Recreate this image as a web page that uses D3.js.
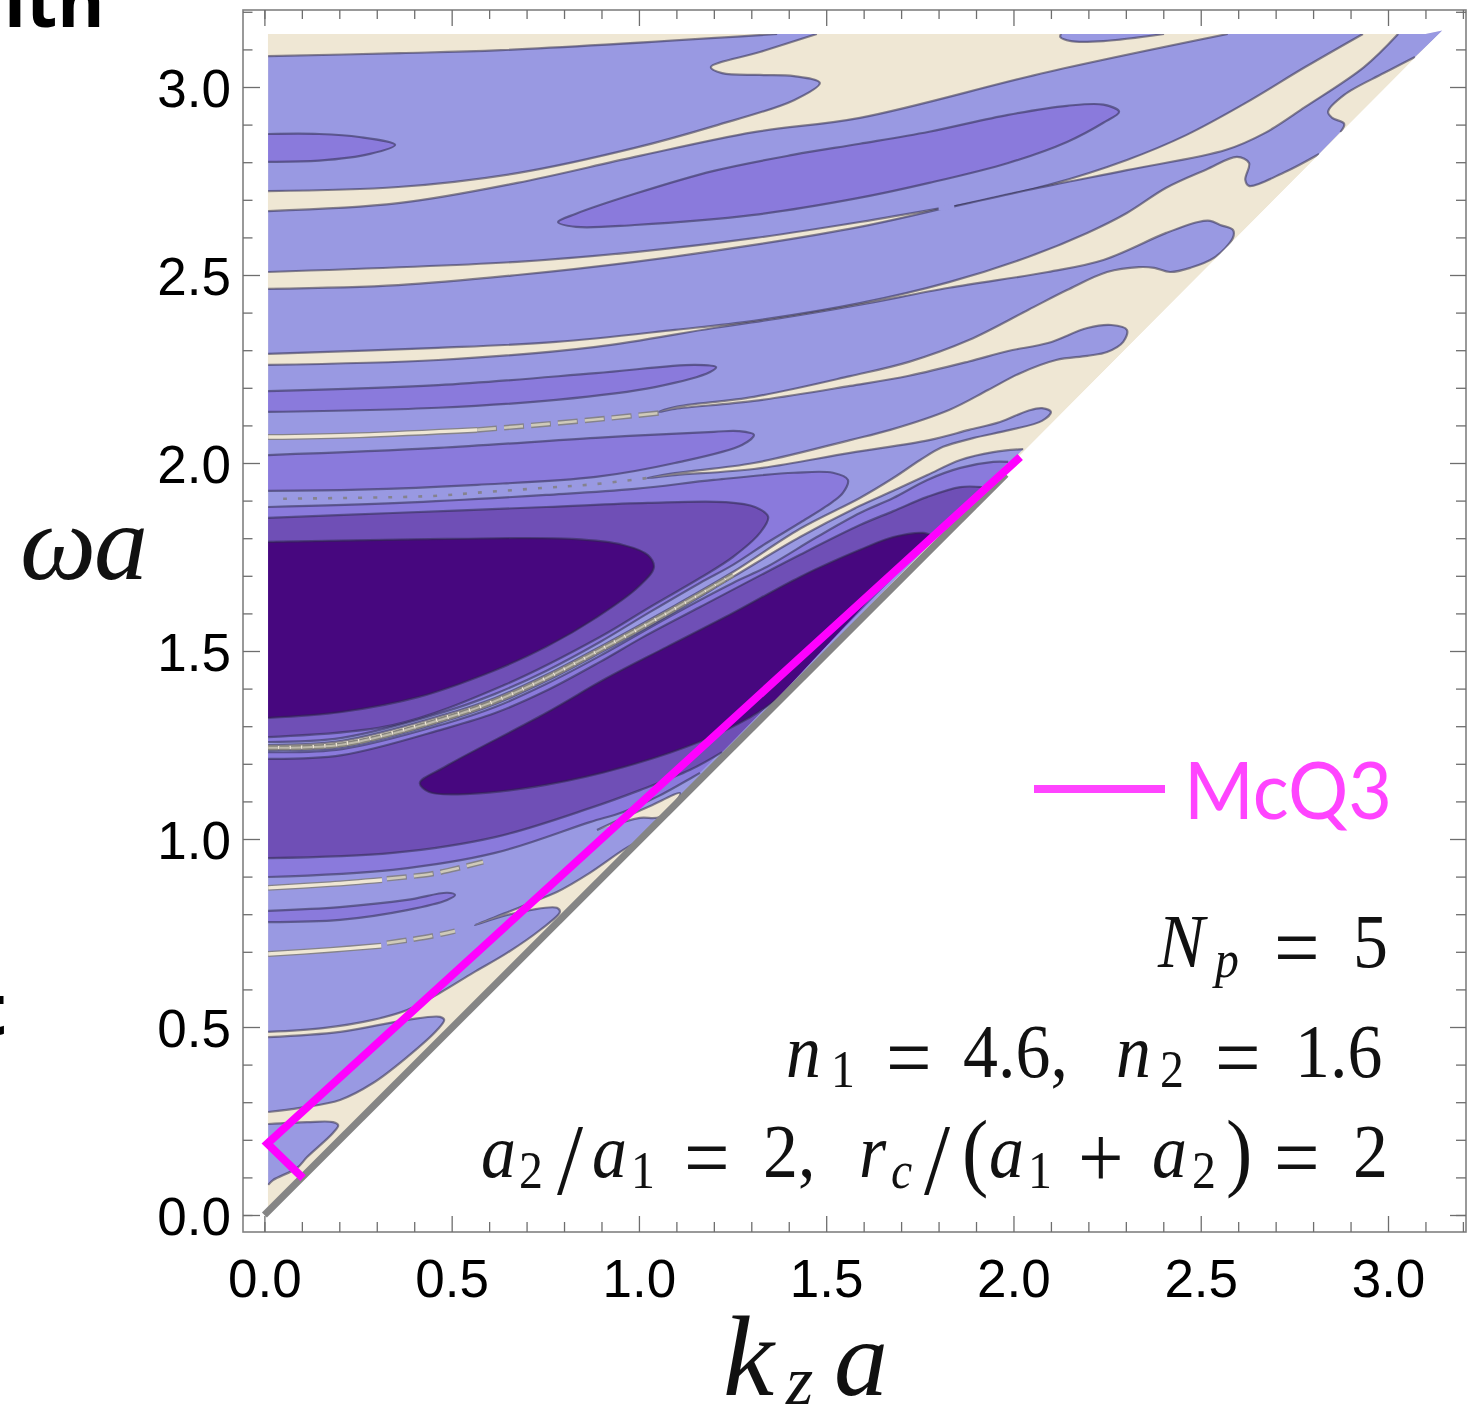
<!DOCTYPE html>
<html><head><meta charset="utf-8">
<style>html,body{margin:0;padding:0;background:#fff}svg{display:block}</style>
<script src="https://cdn.jsdelivr.net/npm/d3@7"></script></head><body>
<svg id="c" width="1471" height="1408"></svg>
<script>
// ---------- tick values ----------
const minorTicks=[0,.1,.2,.3,.4,.6,.7,.8,.9,1.1,1.2,1.3,1.4,1.6,1.7,1.8,1.9,2.1,2.2,2.3,2.4,2.6,2.7,2.8,2.9,3.1,3.2];
const majorTicks=[0,.5,1,1.5,2,2.5,3];
// ---------- domain of the density plot (kz a, omega a) ----------
const domainOutline=[[.009,.005],[.009,3.141],[3.10,3.141],[3.145,3.150],[0,0]];
// ---------- light-blue bands: contour pieces (kz a, omega a) ----------
const bandA=[
 [[.01,3.082],[.362,3.09],[.632,3.098],[1.369,3.141]],
 [[1.475,3.141],[1.323,3.093],[1.192,3.053],[1.222,3.037],[1.323,3.032],[1.414,3.029],[1.483,3.011],[1.414,2.965],[1.2,2.896],[.989,2.838],[.675,2.771],[.357,2.734],[.01,2.723]]];
const bandB=[
 [[.01,2.67],[.357,2.691],[.675,2.745],[.989,2.814],[1.307,2.88],[1.59,2.918],[2.092,3.04],[2.572,3.141]],
 [[2.933,3.141],[2.779,3.053],[2.619,2.957],[2.461,2.872],[2.303,2.806],[2.092,2.739],[1.836,2.681]],
 [[1.806,2.678],[1.59,2.641],[1.307,2.598],[.989,2.561],[.675,2.535],[.01,2.508]]];
const bandC=[
 [[.01,2.463],[.357,2.473],[.675,2.5],[.989,2.535],[1.307,2.58],[1.59,2.628],[1.806,2.676]],
 [[1.836,2.681],[2.039,2.726],[2.303,2.779],[2.568,2.833],[2.672,2.878],[2.779,2.947],[2.936,3.053],[3.027,3.141]],
 [[3.153,3.157]],
 [[3.072,3.08],[2.989,3.037],[2.883,2.979],[2.84,2.934],[2.851,2.918],[2.883,2.902],[2.873,2.88]],
 [[2.816,2.822],[2.725,2.774],[2.629,2.737],[2.619,2.753],[2.629,2.798],[2.597,2.814],[2.514,2.78],[2.408,2.732],[2.303,2.665],[2.197,2.612],[2.039,2.548],[1.828,2.481],[1.59,2.425],[1.307,2.378],[1.096,2.354],[.779,2.322],[.464,2.306],[.01,2.29]]];
const bandGap=[[1.8,2.678],[1.842,2.681]];
const islandTop=[[[2.127,3.141],[2.125,3.133],[2.154,3.122],[2.24,3.122],[2.402,3.141]]];
const bandUpper=[[[.01,2.261],[.464,2.274],[.885,2.309],[1.2,2.359],[1.414,2.391],[1.59,2.421],[1.828,2.466],[2.092,2.508],[2.24,2.54],[2.408,2.612],[2.493,2.641],[2.525,2.644],[2.552,2.633],[2.586,2.62],[2.586,2.599],[2.536,2.546],[2.472,2.519],[2.418,2.508],[2.376,2.519],[2.335,2.521],[2.25,2.508],[2.143,2.46],[2.039,2.407],[1.881,2.327],[1.721,2.269],[1.564,2.231],[1.307,2.176],[1.096,2.149],[1.054,2.136],
 [1.096,2.144],[1.307,2.165],[1.564,2.205],[1.721,2.232],[1.881,2.27],[1.986,2.298],[2.092,2.319],[2.197,2.359],[2.261,2.367],[2.303,2.354],[2.293,2.322],[2.25,2.295],[2.197,2.285],[2.114,2.274],[2.018,2.239],[1.932,2.194],[1.828,2.141],[1.671,2.088],[1.564,2.061],[1.307,2.0],[1.096,1.973],[1.022,1.96],
 [1.096,1.968],[1.307,1.984],[1.564,2.027],[1.775,2.061],[1.881,2.088],[1.964,2.109],[2.039,2.139],[2.076,2.146],[2.1,2.136],[2.076,2.112],[1.991,2.088],[1.892,2.066],[1.812,2.043],[1.751,2.008],[1.679,1.96],[1.59,1.907],[1.43,1.825],[1.251,1.71],[1.075,1.609],[.896,1.511],[.752,1.436],[.616,1.375],[.48,1.33],[.207,1.261],[.01,1.25]]];
const bandLower=[
 [[.01,1.237],[.207,1.245],[.48,1.313],[.616,1.359],[.752,1.42],[.896,1.495],[1.075,1.593],[1.251,1.697],[1.43,1.803],[1.59,1.886],[1.679,1.926],[1.77,1.968],[1.858,2.008],[1.946,2.029],[2.026,2.037]],
 [[1.003,.997],[.958,.971],[.869,.91],[.781,.859],[.709,.83],[.664,.811],[.562,.771],[.648,.798],[.781,.817],[.789,.806],[.736,.758],[.648,.697],[.557,.644],[.469,.591],[.381,.545],[.29,.519],[.156,.497],[.01,.487]]];
const lobeMiddle=[[[.01,.473],[.202,.487],[.381,.519],[.469,.527],[.48,.519],[.461,.492],[.381,.42],[.29,.351],[.202,.306],[.095,.285],[.01,.274]]];
const lobeBottom=[[[.01,.242],[.114,.247],[.183,.247],[.197,.239],[.183,.218],[.114,.154],[.087,.125],[.023,.093],[.01,.08]]];
// ---------- second level (medium violet) ----------
const ellipseTopLeft=[[[.01,2.875],[.146,2.875],[.253,2.867],[.349,2.846],[.282,2.822],[.146,2.804],[.01,2.801]]];
const ellipseLong=[[[.784,2.641],[.832,2.663],[.989,2.716],[1.2,2.777],[1.414,2.82],[1.59,2.849],[1.775,2.881],[1.986,2.926],[2.143,2.95],[2.24,2.953],[2.282,2.934],[2.24,2.905],[2.143,2.854],[1.986,2.798],[1.775,2.745],[1.577,2.703],[1.307,2.66],[.989,2.633],[.832,2.628]]];
const ellipseStrip1=[[[.01,2.191],[.464,2.207],[.885,2.239],[1.15,2.261],[1.206,2.255],[1.19,2.242],[1.043,2.202],[.779,2.168],[.464,2.147],[.01,2.136]]];
const ellipseStrip2=[[[.01,2.021],[.464,2.04],[.885,2.067],[1.2,2.083],[1.265,2.085],[1.307,2.075],[1.275,2.048],[1.096,2.0],[.885,1.963],[.568,1.942],[.253,1.929],[.01,1.926]]];
const ellipseStrip3=[[[.01,.809],[.202,.819],[.381,.838],[.488,.857],[.509,.851],[.488,.838],[.381,.811],[.202,.785],[.01,.779]]];
const crescentUpperMid=[[[.01,1.883],[.362,1.894],[.752,1.915],[.989,1.931],[1.2,1.955],[1.414,1.974],[1.518,1.974],[1.558,1.955],[1.545,1.921],[1.518,1.897],[1.43,1.841],[1.342,1.788],[1.251,1.729],[1.163,1.681],[1.03,1.604],[.896,1.524],[.752,1.447],[.616,1.386],[.48,1.338],[.207,1.269],[.01,1.258]]];
const crescentLowerMid=[
 [[.01,1.231],[.207,1.239],[.48,1.306],[.616,1.351],[.752,1.412],[.896,1.487],[1.075,1.588],[1.251,1.681],[1.342,1.724],[1.475,1.803],[1.59,1.867],[1.679,1.907],[1.77,1.955],[1.858,1.987],[1.946,2.003],[1.986,2.003]],
 [[1.163,1.176],[1.144,1.165],[1.048,1.112],[.958,1.072],[.869,1.045],[.616,.963],[.343,.918],[.01,.899]]];
// ---------- third level ----------
const crescentUpperDark=[[[.01,1.854],[.343,1.867],[.752,1.883],[1.024,1.894],[1.23,1.896],[1.31,1.883],[1.345,1.857],[1.323,1.814],[1.251,1.75],[1.163,1.694],[1.03,1.617],[.896,1.537],[.642,1.41],[.343,1.303],[.01,1.271]]];
const crescentLowerDark=[
 [[.01,1.213],[.207,1.223],[.48,1.293],[.616,1.335],[.752,1.394],[.896,1.471],[1.011,1.537],[1.163,1.617],[1.43,1.756],[1.59,1.835],[1.679,1.872],[1.77,1.91],[1.858,1.936],[1.916,1.936]],
 [[1.222,1.231],[1.137,1.184],[1.003,1.13],[.869,1.082],[.616,1.005],[.343,.963],[.01,.949]]];
// ---------- fourth level ----------
const coreUpper=[[[.01,1.79],[.48,1.798],[.821,1.798],[.958,1.782],[1.024,1.755],[1.04,1.723],[.998,1.67],[.888,1.59],[.752,1.511],[.616,1.449],[.413,1.378],[.207,1.338],[.01,1.322]]];
const coreLower=[[[1.366,1.37],[1.297,1.324],[1.16,1.258],[.958,1.191],[.752,1.144],[.549,1.12],[.44,1.125],[.415,1.149],[.48,1.191],[.752,1.335],[.914,1.428],[1.075,1.511],[1.251,1.601],[1.43,1.697],[1.59,1.769],[1.679,1.803],[1.761,1.814],[1.777,1.809]]];
// ---------- beige slivers ----------
const beigePatch=[[[.888,1.024],[.958,1.056],[1.03,1.088],[1.11,1.122],[1.057,1.059],[1.003,1.056],[.923,1.035]]];
const sliverSolid=[
 [[.01,2.069],[.253,2.074],[.568,2.088]],
 [[.01,.87],[.176,.88],[.314,.891]],
 [[.01,.694],[.176,.705],[.312,.716]]];
const sliverBroken=[
 [[.568,2.088],[.758,2.104],[.928,2.12],[1.054,2.133]],
 [[.327,.894],[.445,.907],[.498,.918],[.584,.939]],
 [[.327,.723],[.381,.731],[.448,.742],[.509,.755]]];
const sliverCrescent=[[.01,1.243],[.207,1.251],[.48,1.32],[.616,1.367],[.752,1.428],[.896,1.503],[1.075,1.601],[1.251,1.702]];
const sliverDots=[[.05,1.905],[.443,1.912],[.568,1.921],[.747,1.934],[.885,1.944],[1.022,1.96]];
// ---------- overlay lines ----------
const lightLine=[[0,0],[1.98,1.97]];
const mcq3Line=[[.103,.098],[.008,.19],[2.018,2.016]];
// ---------- colours ----------
const BEIGE="#efe7d4",LIGHT="#9999e2",MID="#8a7adc",DARK="#6f4fb6",CORE="#47077f";

const svg=d3.select("#c");
const x=d3.scaleLinear([0,3],[264.4,1388]);
const y=d3.scaleLinear([0,3],[1215,87]);
const FL=243,FR=1466,FT=10,FB=1232;
const straight2=d3.line().x(d=>x(d[0])).y(d=>y(d[1]));

svg.append("defs").append("clipPath").attr("id","dom").append("path").attr("d",straight2(domainOutline)+"Z");
const plot=svg.append("g").attr("clip-path","url(#dom)");
plot.append("path").attr("d",straight2(domainOutline)+"Z").attr("fill",BEIGE);

const curve=d3.line().curve(d3.curveCatmullRom.alpha(.5)).x(d=>x(d[0])).y(d=>y(d[1]));
const closedCurve=d3.line().curve(d3.curveCatmullRomClosed.alpha(.5)).x(d=>x(d[0])).y(d=>y(d[1]));
const CONTOUR="rgba(45,42,75,.55)",CW=2.2;
function region(segs,fill,closed){
  let d;
  if(closed){d=closedCurve(segs[0]);
    plot.append("path").attr("d",d).attr("fill",fill).attr("stroke",CONTOUR).attr("stroke-width",CW);return;}
  d=segs.map((s,i)=>{const c=s.length>1?curve(s):("M"+x(s[0][0])+","+y(s[0][1]));return i?c.replace(/^M/,"L"):c;}).join("")+"Z";
  plot.append("path").attr("d",d).attr("fill",fill);
  segs.filter(s=>s.length>1).forEach(s=>plot.append("path").attr("d",curve(s)).attr("fill","none").attr("stroke",CONTOUR).attr("stroke-width",CW));
}
[bandA,bandB,bandC,islandTop,bandUpper,bandLower,lobeMiddle,lobeBottom].forEach(s=>region(s,LIGHT));
plot.append("path").attr("d",straight2(bandGap)).attr("stroke",LIGHT).attr("stroke-width",5).attr("fill","none");
region(beigePatch,BEIGE);
sliverSolid.forEach(s=>{
  plot.append("path").attr("d",curve(s)).attr("fill","none").attr("stroke","#85838a").attr("stroke-width",6);
  plot.append("path").attr("d",curve(s)).attr("fill","none").attr("stroke",BEIGE).attr("stroke-width",3.4);
});
sliverBroken.forEach(s=>{
  plot.append("path").attr("d",curve(s)).attr("fill","none").attr("stroke","#85838a").attr("stroke-width",5.5).attr("stroke-dasharray","20 7");
  plot.append("path").attr("d",curve(s)).attr("fill","none").attr("stroke","#cfcab9").attr("stroke-width",2.6).attr("stroke-dasharray","19 8");
});
plot.append("path").attr("d",curve(sliverDots)).attr("fill","none").attr("stroke","#85838f").attr("stroke-width",2.6).attr("stroke-dasharray","4 11");
[ellipseTopLeft,ellipseStrip1,ellipseStrip2,ellipseStrip3,crescentUpperMid,crescentLowerMid].forEach(s=>region(s,MID));
region(ellipseLong,MID,true);
[crescentUpperDark,crescentLowerDark].forEach(s=>region(s,DARK));
[coreUpper,coreLower].forEach(s=>region(s,CORE));
plot.append("path").attr("d",curve(sliverCrescent)).attr("fill","none").attr("stroke","#85837c").attr("stroke-width",5).attr("stroke-dasharray","10 1.5");
plot.append("path").attr("d",curve(sliverCrescent)).attr("fill","none").attr("stroke","#bdb9aa").attr("stroke-width",2).attr("stroke-dasharray","10 1.5");

svg.append("path").attr("d",straight2(lightLine)).attr("fill","none").attr("stroke","#858585").attr("stroke-width",7);
svg.append("path").attr("d",straight2(mcq3Line)).attr("fill","none").attr("stroke","#ff00ff").attr("stroke-width",8).attr("stroke-linejoin","miter");

// frame and axes
svg.append("rect").attr("x",FL).attr("y",FT).attr("width",FR-FL).attr("height",FB-FT).attr("fill","none").attr("stroke","#808080").attr("stroke-width",1.6);
function ax(gen,tr,vals,len,labels){
  const g=svg.append("g").attr("transform",tr).call(gen.tickValues(vals).tickSize(-len).tickFormat(labels?d3.format(".1f"):"").tickSizeOuter(0));
  g.select(".domain").remove();
  g.selectAll("line").attr("stroke","#6e6e6e").attr("stroke-width",1.3);
  g.selectAll("text").attr("font-family","'Liberation Sans'").attr("font-size",53).attr("fill","#000");
  return g;
}
ax(d3.axisBottom(x),`translate(0,${FB})`,minorTicks,10);
ax(d3.axisTop(x),`translate(0,${FT})`,minorTicks,9);
const xb=ax(d3.axisBottom(x),`translate(0,${FB})`,majorTicks,16,true);
xb.selectAll("text").attr("dy",0).attr("y",65);
ax(d3.axisTop(x),`translate(0,${FT})`,majorTicks,16);
ax(d3.axisLeft(y),`translate(${FL},0)`,minorTicks,9.5);
const yl=ax(d3.axisLeft(y),`translate(${FL},0)`,majorTicks,17,true);
yl.selectAll("text").attr("x",-12).attr("dy","0.36em");
ax(d3.axisRight(y),`translate(${FR},0)`,minorTicks,10);
ax(d3.axisRight(y),`translate(${FR},0)`,majorTicks,16);

// math labels
const serif="'Liberation Serif','Times New Roman',serif";
function tok(t,px,py,size,it,sx=.92){
  svg.append("text").text(t).attr("transform",`translate(${px},${py}) scale(${sx},1)`).attr("font-family",serif).attr("font-size",size)
   .attr("font-style",it?"italic":"normal").attr("fill","#111");
}
const mathLabels=[
 ["ω",20,579,108,1,1],["a",94,579,108,1,1],
 ["k",723,1395,115,1,1],["z",786,1404,70,1,1],["a",834,1395,108,1,1]];
mathLabels.forEach(t=>tok(...t));
const annotation=[
 ["N",1158,967,76,1],["p",1215,977,52,1],["=",1274,977,88,0],["5",1353,967,76,0],
 ["n",786,1077,76,1],["1",831,1087,52,0],["=",886,1087,88,0],["4.6,",963,1077,76,0],
 ["n",1116,1077,76,1],["2",1160,1087,52,0],["=",1215,1087,88,0],["1.6",1295,1077,76,0],
 ["a",481,1177,76,1],["2",519,1188,52,0],["/",557,1194,102,0],["a",592,1177,76,1],["1",631,1188,52,0],
 ["=",684,1187,88,0],["2,",763,1177,76,0],["r",859,1177,76,1],["c",891,1188,52,1],["/",924,1194,102,0],
 ["(",962,1180,86,0],["a",989,1177,76,1],["1",1028,1188,52,0],["+",1078,1187,88,0],["a",1152,1177,76,1],["2",1192,1188,52,0],
 [")",1226,1180,86,0],["=",1274,1187,88,0],["2",1353,1177,76,0]];
annotation.forEach(t=>tok(...t));

// legend
svg.append("line").attr("x1",1034).attr("x2",1165).attr("y1",789).attr("y2",789).attr("stroke","#ff44ff").attr("stroke-width",8);
svg.append("text").text("McQ3").attr("x",1184).attr("y",819).attr("font-family","Lato").attr("font-size",80).attr("textLength",208).attr("lengthAdjust","spacingAndGlyphs").attr("fill","#ff44ff");

// cropped neighbours of the figure
svg.append("text").text("ith").attr("x",4).attr("y",27).attr("font-family","'Open Sans'").attr("font-weight",700).attr("font-size",72).attr("fill","#000");
svg.append("text").text("t").attr("x",-25).attr("y",1035).attr("font-family","'Open Sans'").attr("font-weight",700).attr("font-size",72).attr("fill","#000");
</script></body></html>
